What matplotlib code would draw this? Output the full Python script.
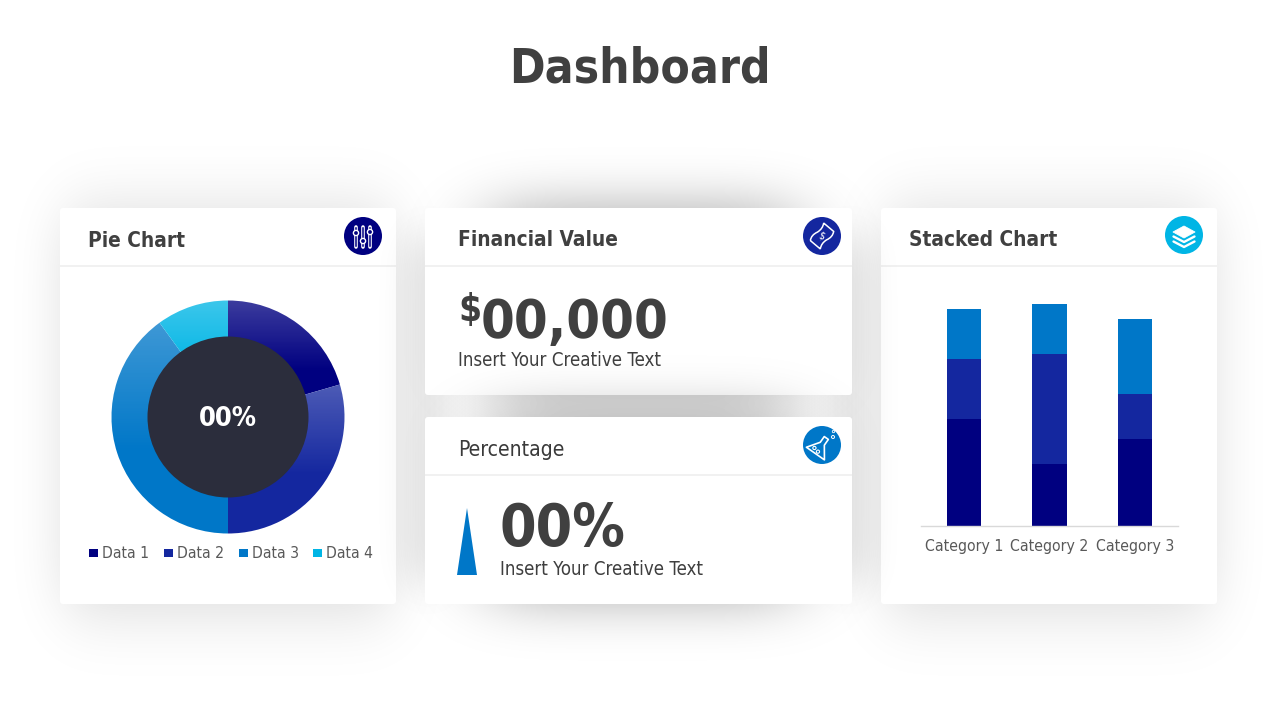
import math
import numpy as np
import matplotlib
matplotlib.use("Agg")
import matplotlib.pyplot as plt
from matplotlib.patches import FancyBboxPatch, Circle, Polygon, Rectangle, PathPatch
from matplotlib.path import Path
from matplotlib.colors import to_rgb

plt.rcParams['font.family'] = ['DejaVu Sans']
plt.rcParams['font.stretch'] = 'condensed'

# ---- data ----
title = "Dashboard"
pie_labels = ["Data 1", "Data 2", "Data 3", "Data 4"]
pie_values = [20.5, 29.5, 40, 10]
pie_colors = ["#000080", "#14279F", "#0077C8", "#00B5E5"]
pie_center_text = "00%"
categories = ["Category 1", "Category 2", "Category 3"]
stack_1 = [4.3, 2.5, 3.5]
stack_2 = [2.4, 4.4, 1.8]
stack_3 = [2.0, 2.0, 3.0]
money_text = "00,000"
pct_text = "00%"
body_text = "Insert Your Creative Text"
pct_bar_value = 67

TEXT = "#404040"
W, H = 1280, 720
fig = plt.figure(figsize=(W / 100, H / 100), dpi=100, facecolor="white")
bg = fig.add_axes([0, 0, 1, 1])
bg.set_xlim(0, W)
bg.set_ylim(H, 0)
bg.axis("off")

px = lambda p: p * 0.72
erf = np.vectorize(math.erf)
xs = np.arange(W) + 0.5
ys = np.arange(H) + 0.5


def shadow(x0, x1, y0, y1, sx, sy, alpha, z):
    fx = 0.5 * (erf((xs - x0) / sx) - erf((xs - x1) / sx))
    fy = 0.5 * (erf((ys - y0) / sy) - erf((ys - y1) / sy))
    img = np.zeros((H, W, 4))
    img[..., 3] = alpha * np.outer(fy, fx)
    bg.imshow(img, extent=(0, W, H, 0), zorder=z, interpolation="bilinear", aspect="auto")


def card(x0, y0, x1, y1, header_y, z):
    bg.add_patch(FancyBboxPatch((x0 + 2, y0 + 2), x1 - x0 - 4, y1 - y0 - 4,
                                boxstyle="round,pad=2,rounding_size=3",
                                fc="white", ec="none", zorder=z))
    bg.plot([x0, x1], [header_y, header_y], color="#EEEEEE", lw=1.1, zorder=z + 0.1,
            solid_capstyle="butt")


# side cards
shadow(66, 392, 212, 610, 38, 48, 0.15, 1)
shadow(885, 1211, 212, 610, 38, 48, 0.15, 1)
card(60, 208, 396, 604, 265.5, 2)
card(881, 208, 1217, 604, 265.5, 2)
# centre cards with their shadows falling on the neighbours
shadow(415, 440, 240, 580, 26, 30, 0.15, 3)
shadow(837, 862, 240, 580, 26, 30, 0.15, 3)
shadow(490, 795, 204, 395, 55, 36, 0.30, 3)
card(425, 208, 852, 395, 265.5, 4)
shadow(490, 795, 412, 604, 55, 36, 0.30, 5)
card(425, 417, 852, 604, 474.5, 6)
Z = 8


def T(x, y, s, size, weight="normal", color=TEXT, ha="left", ax=bg, **kw):
    return ax.text(x, y, s, fontsize=px(size), fontweight=weight, color=color, ha=ha,
                   va="baseline", zorder=Z + 2, **kw)


T(640, 82.5, title, 47.6, "bold", ha="center")
T(88, 247, "Pie Chart", 20.8, "bold")
T(458, 246.5, "Financial Value", 20.8, "bold")
T(909, 246.5, "Stacked Chart", 20.8, "bold")
T(458, 455.5, "Percentage", 21, color="#3A3A3A")
T(458, 321, "$", 37, "bold")
T(481, 337.5, money_text, 54, "bold")
T(458, 366, body_text, 18.7, color="#3F3F3F")
T(500, 546, pct_text, 58.5, "bold")
T(500, 575, body_text, 18.7, color="#3F3F3F")

# percentage spike, height driven by its value
spike_base, spike_h = 575, pct_bar_value
bg.add_patch(Polygon([(457, spike_base), (477, spike_base), (467, spike_base - spike_h)],
                     fc="#0077C8", ec="none", zorder=Z))


# ---- icons ----
def disc(cx, cy, c):
    bg.add_patch(Circle((cx, cy), 19, fc=c, ec="none", zorder=Z))


WL = dict(color="white", zorder=Z + 1, solid_capstyle="round", solid_joinstyle="round")
disc(363, 236, pie_colors[0])
for sx_, ky in zip((356, 363, 370), (233, 241, 232)):
    bg.plot([sx_, sx_], [227, 247], lw=2.6, **WL)
    bg.plot([sx_, sx_], [228, 246], lw=1.1, color=pie_colors[0], zorder=Z + 1.1)
    bg.add_patch(Circle((sx_, ky), 2.6, fc=pie_colors[0], ec="white", lw=1, zorder=Z + 1.2))


def rot(points, cx, cy, deg):
    a = math.radians(deg)
    return [(cx + x * math.cos(a) - y * math.sin(a), cy + x * math.sin(a) + y * math.cos(a))
            for x, y in points]


disc(822, 236, pie_colors[1])
bill = Path(rot([(-11, -6), (-6, -9), (0, -6), (6, -4), (11, -7),
                 (11, 6), (6, 9), (0, 6), (-6, 4), (-11, 7), (-11, -6)], 822, 236, -50),
            [1, 3, 3, 3, 3, 2, 3, 3, 3, 3, 2])
bg.add_patch(PathPatch(bill, fc="none", ec="white", lw=1.1, zorder=Z + 1))
bg.text(822, 236, "$", fontsize=7.5, color="white", ha="center", va="center", rotation=-20,
        zorder=Z + 1)

disc(822, 445, pie_colors[2])
flask = rot([(-2.5, -11), (2.5, -11), (2.5, -4), (11, 8), (-11, 8), (-2.5, -4)], 820, 447, 35)
bg.add_patch(Polygon(flask, closed=True, fc="none", ec="white", lw=1.2, joinstyle="round",
                     zorder=Z + 1))
for dx, dy, r in ((-4, 4, 1.6), (1, 5, 1.6)):
    cxy = rot([(dx, dy)], 820, 447, 35)[0]
    bg.add_patch(Circle(cxy, r, fc="none", ec="white", lw=0.8, zorder=Z + 1))
bg.add_patch(Circle((833, 437), 1.5, fc="none", ec="white", lw=0.7, zorder=Z + 1))
bg.add_patch(Circle((833.5, 431.5), 1.2, fc="none", ec="white", lw=0.6, zorder=Z + 1))

disc(1184, 235, pie_colors[3])
bg.add_patch(Polygon([(1184, 226), (1195, 232), (1184, 238), (1173, 232)], fc="white",
                     ec="white", lw=0.6, joinstyle="round", zorder=Z + 1))
for off in (0, 5):
    bg.plot([1173.5, 1184, 1194.5], [236.5 + off, 242 + off, 236.5 + off], lw=1.7, **WL)

# ---- doughnut ----
ax = fig.add_axes([109 / W, 1 - 536 / H, 238 / W, 238 / H], zorder=3)
ax.patch.set_alpha(0)
wedges, _ = ax.pie(pie_values, startangle=90, counterclock=False, radius=1.0,
                   colors=pie_colors)
for w, c in zip(wedges, pie_colors):
    w.set_facecolor("none")
    w.set_edgecolor("none")
    w.set_zorder(1)
    # a vertical sheen: light at the wedge's top edge, plain colour from half-way down
    bb = w.get_path().transformed(w.get_patch_transform()).get_extents()
    t = np.clip(np.linspace(0, 1, 128) / 0.6, 0, 1)
    base = np.array(to_rgb(c))
    grad = (base[None, :] * t[:, None] + (base * 0.75 + 0.25)[None, :] * (1 - t[:, None]))
    grad = np.repeat(grad[:, None, :], 4, axis=1)
    im = ax.imshow(grad, extent=(bb.x0 - 0.03, bb.x1 + 0.03, bb.y0 - 0.03, bb.y1 + 0.03),
                   aspect="auto", origin="upper", zorder=1, interpolation="nearest")
    im.set_clip_path(w)
ax.add_patch(Circle((0, 0), 80.5 / 116.5, fc="#2B2D3C", ec="none", zorder=3))
ax.text(0, -0.015, pie_center_text, color="white", fontsize=px(27), fontweight="bold",
        ha="center", va="center", zorder=4)
lim = 119 / 116.5
ax.set_xlim(-lim, lim)
ax.set_ylim(-lim, lim)
ax.set_aspect("equal")
ax.axis("off")

legend_x = (89, 164, 239, 313)
for lx, lab, c in zip(legend_x, pie_labels, pie_colors):
    bg.add_patch(Rectangle((lx, 549), 9, 8, fc=c, ec="none", zorder=Z))
    T(lx + 13, 558.5, lab, 15.6, color="#595959")

# ---- stacked bars ----
bx = fig.add_axes([921 / W, 1 - 526 / H, 257 / W, 225 / H], zorder=3)
bx.patch.set_alpha(0)
pos = np.arange(len(categories))
b2 = np.array(stack_1)
b3 = b2 + np.array(stack_2)
bx.bar(pos, stack_1, 0.4, color=pie_colors[0], label=pie_labels[0])
bx.bar(pos, stack_2, 0.4, bottom=b2, color=pie_colors[1], label=pie_labels[1])
bx.bar(pos, stack_3, 0.4, bottom=b3, color=pie_colors[2], label=pie_labels[2])
bx.set_xlim(-0.5, 2.5)
bx.set_ylim(0, 9)
bx.set_yticks([])
bx.set_xticks(pos, categories)
bx.tick_params(axis="x", length=0, pad=9.5, labelsize=px(15.7), labelcolor="#595959")
for s in ("top", "left", "right"):
    bx.spines[s].set_visible(False)
bx.spines["bottom"].set_color("#D9D9D9")
bx.spines["bottom"].set_linewidth(1)

bg.set_xlim(0, W)
bg.set_ylim(H, 0)
fig.savefig("out.png", dpi=100)
